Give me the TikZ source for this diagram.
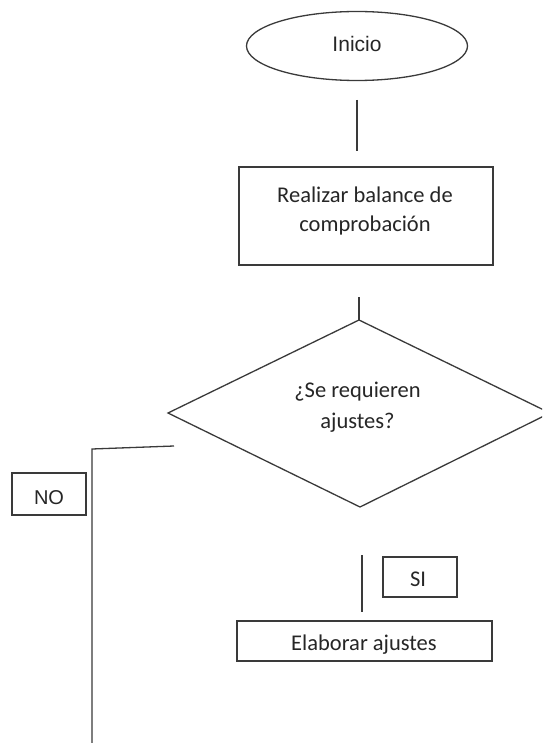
\documentclass[tikz,border=0pt]{standalone}
\usepackage{fontspec}
\setmainfont{Carlito}
\newfontfamily\arialf{Liberation Sans}
\usetikzlibrary{shapes.geometric}
\definecolor{linec}{HTML}{3A3A3A}
\definecolor{textc}{HTML}{262626}
\tikzset{
  shapeline/.style={draw=linec, line width=1.3pt},
  boxnode/.style={shapeline, rectangle, inner sep=0pt, fill=white},
  cal/.style={text=textc, inner sep=0pt, anchor=base, font=\fontsize{22.5}{27}\selectfont},
  ari/.style={text=textc, inner sep=0pt, anchor=base, font=\arialf\fontsize{21}{25}\selectfont},
  conn/.style={draw=linec, line width=1.3pt},
}
\begin{document}
\begin{tikzpicture}[x=1pt,y=-1pt]
\useasboundingbox (0,0) rectangle (542,743);
\clip (0,0) rectangle (542,743);
\fill[white] (0,0) rectangle (542,743);

% Inicio
\node[shapeline, ellipse, minimum width=221pt, minimum height=69pt, inner sep=0pt] (inicio) at (357,46) {};
\node[ari] (iniciot) at (357,52) {Inicio};

% Realizar balance
\node[boxnode, minimum width=254pt, minimum height=98pt] (bal) at (366,216) {};
\node[cal] (balt1) at (365,203) {Realizar balance de};
\node[cal] (balt2) at (365,231) {comprobación};

% Diamond
\coordinate (dtop) at (359,320);
\coordinate (dleft) at (168,413);
\coordinate (dbot) at (360,507);
\coordinate (dright) at (550,413);
\draw[shapeline, line join=miter] (dtop) -- (dright) -- (dbot) -- (dleft) -- cycle;
\node[cal] (dect1) at (357.5,397) {¿Se requieren};
\node[cal] (dect2) at (357.5,428) {ajustes?};

% NO
\node[boxnode, minimum width=74pt, minimum height=42pt] (no) at (49,494) {};
\node[ari, font=\arialf\fontsize{20}{24}\selectfont] (not) at (49,504) {NO};

% SI
\node[boxnode, minimum width=74pt, minimum height=40pt] (si) at (420,577) {};
\node[cal] (sit) at (418,586) {SI};

% Elaborar ajustes
\node[boxnode, minimum width=255pt, minimum height=40pt] (elab) at (364.5,641) {};
\node[cal] (elabt) at (364,650) {Elaborar ajustes};

% connectors
\coordinate (c1a) at (357,100);
\coordinate (c1b) at (357,151);
\draw[conn] (c1a) -- (c1b);
\coordinate (c2a) at (359,297);
\draw[conn] (c2a) -- (dtop);
\coordinate (c3a) at (362,555);
\coordinate (c3b) at (362,612);
\draw[conn] (c3a) -- (c3b);
\coordinate (c4a) at (174,446);
\coordinate (c4b) at (92,449);
\coordinate (c4c) at (92,745);
\draw[conn] (c4a) -- (c4b) -- (c4c);
\end{tikzpicture}
\end{document}
